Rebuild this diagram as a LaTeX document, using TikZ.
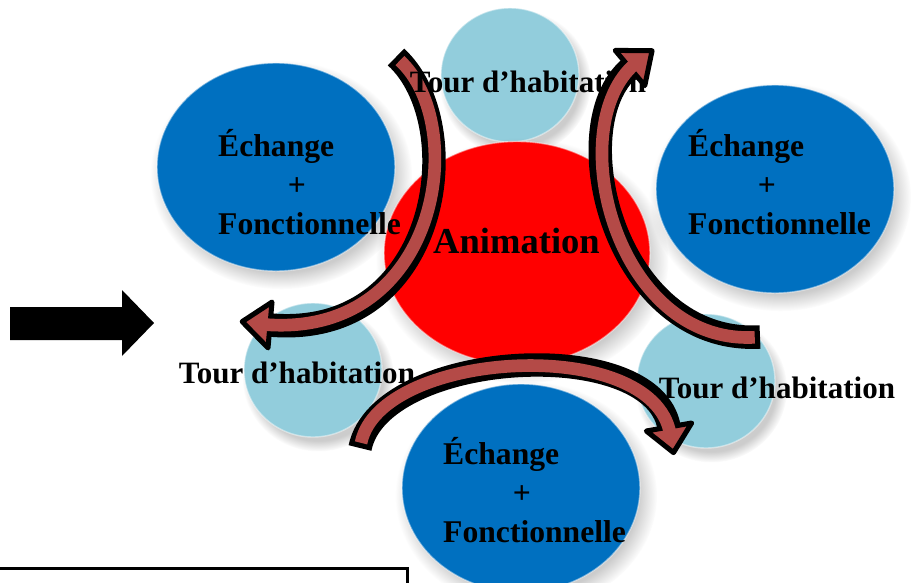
\documentclass[tikz,border=0pt]{standalone}
\usepackage{fontspec}
\setmainfont{Liberation Serif}
\usetikzlibrary{shapes.geometric,shadows,calc}
\definecolor{EchBlue}{RGB}{0,112,192}
\definecolor{TourBlue}{RGB}{146,205,220}
\definecolor{AnimRed}{RGB}{255,0,0}
\definecolor{ArrRed}{RGB}{180,74,71}

\begin{document}
\begin{tikzpicture}[
		x=0.03cm, y=-0.03cm,
		bulle/.style={ellipse, inner sep=0pt, draw=white, draw opacity=.45, line width=1.2pt,
			circular drop shadow={shadow xshift=4pt, shadow yshift=-6pt, shadow scale=1.1, opacity=.4}},
		echbulle/.style={bulle, fill=EchBlue, minimum width=7.14cm, minimum height=6.24cm},
		tourbulle/.style={bulle, fill=TourBlue, minimum width=4.14cm, minimum height=4.02cm},
		animbulle/.style={bulle, fill=AnimRed, minimum width=7.98cm, minimum height=6.69cm},
		txt/.style={inner sep=0pt, font=\fontsize{26.5}{33}\selectfont\bfseries},
		bandout/.style={line width=20pt, black},
		bandin/.style={line width=10.8pt, ArrRed, shorten <=4.5pt, shorten >=-6pt},
		arrhead/.style={fill=ArrRed, draw=black, line width=4.3pt, line join=round}
		]
		\useasboundingbox (0,0) rectangle (916,583);
		\clip (0,0) rectangle (916,583);
		
		% ===== bulles =====
		\foreach \nom/\x/\y in {tourA/510/75, tourB/313/370, tourC/706/381}{
			\node[tourbulle] (\nom) at (\x,\y) {};
		}
		\foreach \nom/\x/\y in {echA/276/167, echB/775/189, echC/521/488}{
			\node[echbulle] (\nom) at (\x,\y) {};
		}
		\node[animbulle] (anim) at (517,253) {};
		
		% ===== grosse flèche noire + cadre =====
		\fill (10,307) -- (122,307) -- (122,290) -- (154,323) -- (122,356) -- (122,340) -- (10,340) -- cycle;
		\draw[line width=3.4pt] (0,568.5) -- (407.5,568.5) -- (407.5,600);
		
		% ===== flèche gauche =====
		\coordinate (gA) at (396,57);
		\coordinate (gB) at (270,325);
		\draw[bandout] (gA) .. controls (470,125) and (440,340) .. (gB);
		\filldraw[arrhead] ($(gB)+(95:23)$) -- ($(gB)+(187:28)$) -- ($(gB)+(275:23)$) -- cycle;
		\draw[bandin] (gA) .. controls (470,125) and (440,340) .. (gB);
		
		% ===== textes =====
		\node[txt, font=\fontsize{31.2}{36}\selectfont\bfseries, anchor=base] (animt) at (516.5,253) {Animation};
		\foreach \nom/\x/\y in {tourAt/528/92, tourBt/297/383, tourCt/777/398}{
			\node[txt, anchor=base] (\nom) at (\x,\y) {Tour d’habitation};
		}
		\foreach \nom/\x/\y in {echAt/218/182, echBt/688/182, echCt/443/490}{
			\node[txt, font=\fontsize{27}{33}\selectfont\bfseries, anchor=west, align=left] (\nom) at (\x,\y)
			{Échange\\ \hspace*{2.2em}+\\ Fonctionnelle};
		}
		
		% ===== flèche droite =====
		\coordinate (dA) at (760,337);
		\coordinate (dB) at (630,68);
		\draw[bandout] (dA) .. controls (615,345) and (561,126) .. (dB);
		\filldraw[arrhead] ($(dB)+(50:23)$) -- ($(dB)+(-38:28)$) -- ($(dB)+(230:23)$) -- cycle;
		\draw[bandin] (dA) .. controls (615,345) and (561,126) .. (dB);
		
		% ===== flèche du bas =====
		\coordinate (bA) at (360,448);
		\coordinate (bB) at (669,427);
		\draw[bandout] (bA) .. controls (380,350) and (652.5,333.4) .. (bB);
		\filldraw[arrhead] ($(bB)+(170:23)$) -- ($(bB)+(80:26)$) -- ($(bB)+(350:23)$) -- cycle;
		\draw[bandin] (bA) .. controls (380,350) and (652.5,333.4) .. (bB);
		
	\end{tikzpicture}
\end{document}
